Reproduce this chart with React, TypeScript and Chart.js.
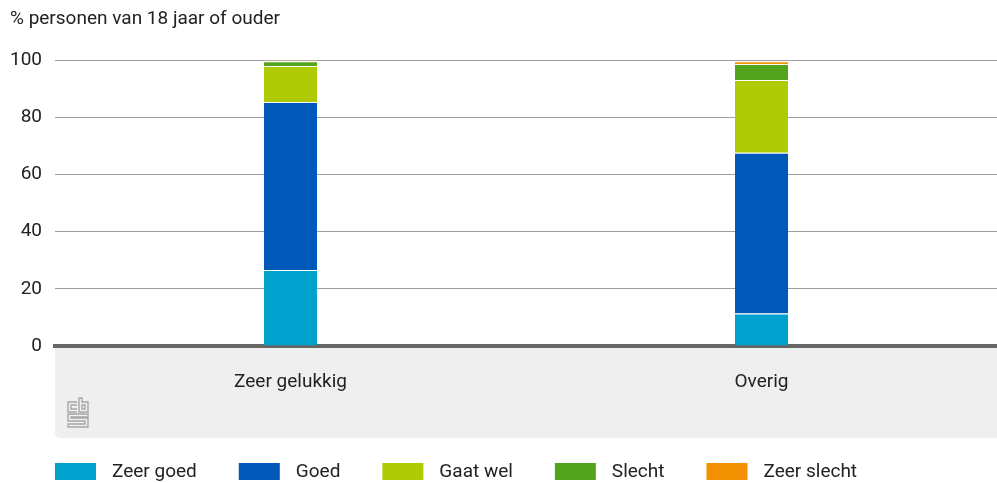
import React, { useEffect, useRef } from 'react';
import { Chart, registerables } from 'chart.js';

Chart.register(...registerables);

const categories = ['Zeer gelukkig', 'Overig'];
const seriesNames = ['Zeer goed', 'Goed', 'Gaat wel', 'Slecht', 'Zeer slecht'];
const zeerGoed = [26.6, 11.4];
const goed = [58.7, 56.2];
const gaatWel = [12.6, 25.4];
const slecht = [1.7, 5.6];
const zeerSlecht = [0.2, 1.0];
const seriesColors = ['#00a1cd', '#0058b8', '#afcb05', '#53a31d', '#f39200'];
const yTickValues = [0, 20, 40, 60, 80, 100];
const titleText = '% personen van 18 jaar of ouder';

const FONT = 'Roboto, "Noto Sans", sans-serif';
const TEXT_COLOR = '#222222';

const decorPlugin = {
  id: 'decor',
  beforeDraw(chart: any) {
    const { ctx, chartArea } = chart;
    const x = chart.scales.x;
    ctx.save();
    ctx.fillStyle = '#efefef';
    const top = chartArea.bottom;
    const bottom = x.bottom;
    const left = chartArea.left;
    const right = chartArea.right;
    const r = 6;
    ctx.beginPath();
    ctx.moveTo(left, top);
    ctx.lineTo(right, top);
    ctx.lineTo(right, bottom);
    ctx.lineTo(left + r, bottom);
    ctx.quadraticCurveTo(left, bottom, left, bottom - r);
    ctx.closePath();
    ctx.fill();

    // cbs logo
    const lx = left + 13;
    const ly = top + 52;
    ctx.strokeStyle = '#a8a8a8';
    ctx.lineWidth = 1.4;
    ctx.beginPath();
    // "c"
    ctx.moveTo(lx + 9, ly + 4);
    ctx.lineTo(lx, ly + 4);
    ctx.lineTo(lx, ly + 14);
    ctx.lineTo(lx + 9, ly + 14);
    ctx.moveTo(lx + 9, ly + 7);
    ctx.lineTo(lx + 3, ly + 7);
    ctx.lineTo(lx + 3, ly + 11);
    ctx.lineTo(lx + 9, ly + 11);
    // "b"
    ctx.moveTo(lx + 11, ly);
    ctx.lineTo(lx + 11, ly + 14);
    ctx.lineTo(lx + 20, ly + 14);
    ctx.lineTo(lx + 20, ly + 4);
    ctx.lineTo(lx + 14, ly + 4);
    ctx.lineTo(lx + 14, ly);
    ctx.closePath();
    ctx.rect(lx + 14, ly + 7, 3, 4);
    // "S"
    ctx.moveTo(lx + 20, ly + 16);
    ctx.lineTo(lx, ly + 16);
    ctx.lineTo(lx, ly + 23);
    ctx.lineTo(lx + 17, ly + 23);
    ctx.lineTo(lx + 17, ly + 26);
    ctx.lineTo(lx, ly + 26);
    ctx.lineTo(lx, ly + 29);
    ctx.lineTo(lx + 20, ly + 29);
    ctx.lineTo(lx + 20, ly + 20);
    ctx.lineTo(lx + 3, ly + 20);
    ctx.lineTo(lx + 3, ly + 19);
    ctx.lineTo(lx + 20, ly + 19);
    ctx.closePath();
    ctx.stroke();
    ctx.restore();
  },
  afterDraw(chart: any) {
    const { ctx } = chart;
    ctx.save();
    ctx.fillStyle = TEXT_COLOR;
    ctx.font = `19px ${FONT}`;
    ctx.textBaseline = 'middle';
    ctx.textAlign = 'left';
    ctx.fillText(titleText, 10, 19);

    // legend
    let lx = 55;
    const boxW = 41;
    const boxH = 17;
    const boxY = 463;
    chart.data.datasets.forEach((ds: any) => {
      ctx.fillStyle = ds.backgroundColor;
      ctx.fillRect(lx, boxY, boxW, boxH);
      ctx.fillStyle = TEXT_COLOR;
      const tx = lx + boxW + 16;
      ctx.fillText(ds.label, tx, boxY + boxH / 2 + 1);
      lx = tx + ctx.measureText(ds.label).width + 42;
    });
    ctx.restore();
  },
};

export default function App() {
  const canvasRef = useRef<HTMLCanvasElement | null>(null);

  useEffect(() => {
    document.body.style.margin = '0';
    const canvas = canvasRef.current;
    if (!canvas) return;
    const seriesValues = [zeerGoed, goed, gaatWel, slecht, zeerSlecht];
    const chart = new Chart(canvas, {
      type: 'bar',
      data: {
        labels: categories,
        datasets: seriesNames.map((name, i) => ({
          label: name,
          data: seriesValues[i],
          backgroundColor: seriesColors[i],
          borderColor: '#ffffff',
          borderWidth: { top: 1, left: 0, right: 0, bottom: 0 },
          borderSkipped: false,
          categoryPercentage: 1,
          barPercentage: 0.1125,
        })),
      },
      options: {
        animation: false,
        responsive: false,
        devicePixelRatio: 1,
        layout: { padding: { top: 60, bottom: 45, left: 0, right: 0 } },
        plugins: {
          legend: { display: false },
          tooltip: { enabled: false },
          title: { display: false },
        },
        scales: {
          x: {
            stacked: true,
            grid: { display: false, drawTicks: false },
            border: { display: true, color: '#666666', width: 4 },
            ticks: {
              color: TEXT_COLOR,
              font: { family: FONT, size: 19 },
              padding: 25,
            },
            afterFit(scale: any) {
              scale.height = 92;
            },
          },
          y: {
            stacked: true,
            min: 0,
            max: 100,
            afterBuildTicks(scale: any) {
              scale.ticks = yTickValues.map((v) => ({ value: v }));
            },
            grid: { color: '#a0a0a0', lineWidth: 1, drawTicks: false },
            border: { display: false },
            ticks: {
              color: TEXT_COLOR,
              font: { family: FONT, size: 19 },
              padding: 13,
            },
            afterFit(scale: any) {
              scale.width = 55;
            },
          },
        },
      },
      plugins: [decorPlugin],
    });
    return () => chart.destroy();
  }, []);

  return (
    <div style={{ width: 997, height: 483 }}>
      <canvas ref={canvasRef} width={997} height={483} />
    </div>
  );
}
